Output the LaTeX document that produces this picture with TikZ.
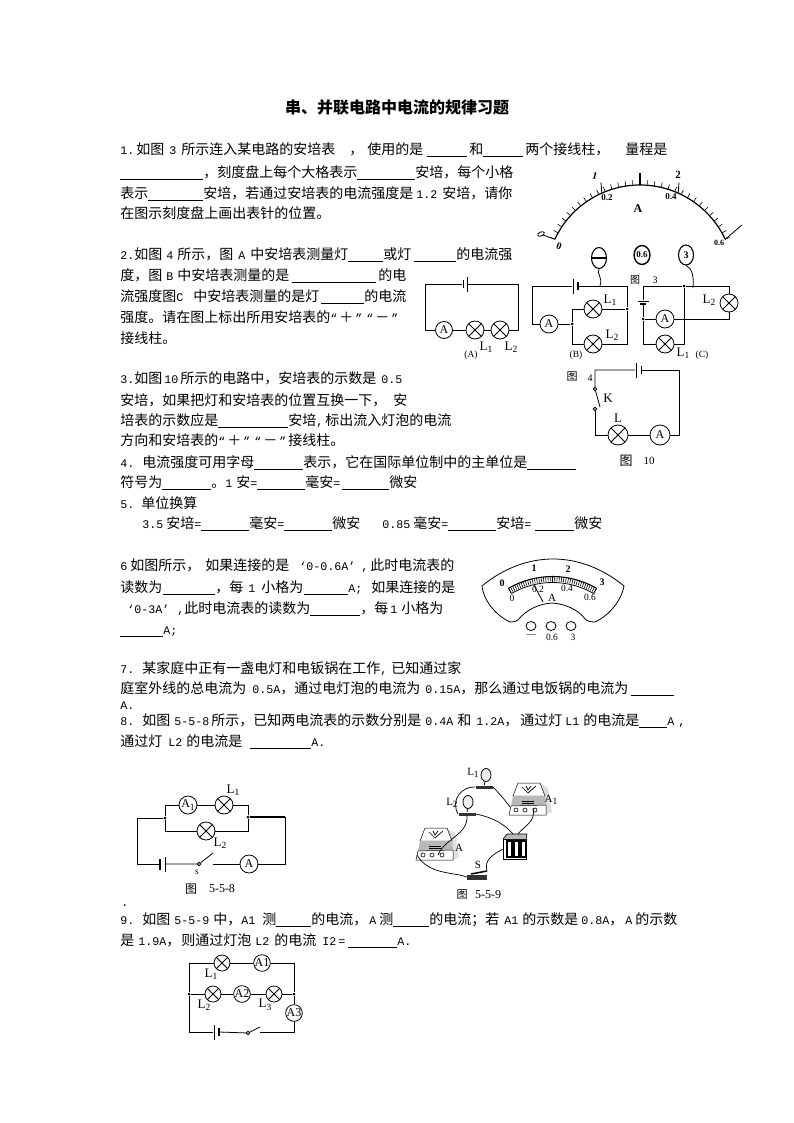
\documentclass[tikz,border=0pt]{standalone}
\usepackage{fontspec}
\setmainfont{Noto Sans CJK SC}
\newfontfamily\ltfont{Liberation Serif}
\newfontfamily\monof{Liberation Mono}
\usetikzlibrary{calc,shapes.geometric}
\definecolor{devgray}{rgb}{0.72,0.72,0.72}
\newcommand{\fillin}[1]{\rule[-2.5pt]{#1pt}{0.7pt}}
\newcommand{\gp}[1]{\hspace{#1pt}}
\newcommand{\lat}[1]{{\monof\fontsize{11.67}{14}\selectfont #1}}
\newcommand{\sublab}[2]{#1\raisebox{-2.5pt}{\fontsize{9.5}{10}\selectfont #2}}
\tikzset{
  txt/.style={anchor=base west,inner sep=0pt,yshift=-1.5pt,font=\fontsize{14}{14}\selectfont},
  cap/.style={inner sep=0pt,font=\fontsize{#1}{#1}\selectfont},
  lab/.style={inner sep=0pt,font=\ltfont\fontsize{13}{13}\selectfont},
  small/.style={inner sep=0pt,font=\ltfont\fontsize{9.5}{10}\selectfont},
  boldnum/.style={inner sep=0pt,font=\ltfont\bfseries\fontsize{#1}{#1}\selectfont},
  lamp/.style={circle,draw,fill=white,minimum size=18pt,inner sep=0pt,
    path picture={\draw (path picture bounding box.north west) -- (path picture bounding box.south east)
      (path picture bounding box.north east) -- (path picture bounding box.south west);}},
  meter/.style={circle,draw,fill=white,minimum size=18pt,inner sep=0pt,font=\ltfont\fontsize{12}{12}\selectfont},
  platelong/.style={fill=black,inner sep=0pt,minimum width=1pt,minimum height=15pt},
  plateshort/.style={fill=black,inner sep=0pt,minimum width=2pt,minimum height=8pt},
  plateh/.style={fill=black,inner sep=0pt,minimum width=#1,minimum height=1pt},
  dot/.style={circle,fill=black,inner sep=0pt,minimum size=3pt},
  contact/.style={circle,draw,fill=white,inner sep=0pt,minimum size=3.5pt},
  terminal/.style={ellipse,draw,inner sep=0pt,minimum width=10pt,minimum height=9pt},
  bulb/.style={ellipse,draw,fill=devgray!25,inner sep=0pt,minimum width=10pt,minimum height=13pt},
  bulbbase/.style={fill=black!80,inner sep=0pt,minimum width=17pt,minimum height=3pt},
  device/.pic={
    \fill[devgray!45] (12,-17) -- (20,-12) -- (24,12) -- (18,15) -- cycle;
    \draw[line width=0.5pt,fill=white] (-10,-17) -- (12,-17) -- (17,-4) -- (-15,-4) -- cycle;
    \draw[line width=0.7pt] (-6,-13) -- (0,-7) -- (8,-14) (-2,-14) -- (0,-10) -- (3,-14);
    \fill[devgray] (-15,-4) -- (17,-4) -- (18,5) -- (-17,6) -- cycle;
    \draw[line width=0.5pt] (-6,1) -- (6,1) (-6,3) -- (6,3);
    \draw[line width=0.5pt,fill=white] (-17,6) -- (18,5) -- (18,15) -- (-19,15) -- cycle;
    \foreach \k in {-12,-3,7}{\draw[line width=0.6pt] (\k,10) circle (2);}
  },
}
\begin{document}
\begin{tikzpicture}[x=1pt,y=-1pt,line width=0.8pt]
  \useasboundingbox (0,0) rectangle (794,1123);
  \fill[white] (0,0) rectangle (794,1123);
  % text
  \node[anchor=base,inner sep=0pt,font=\fontsize{16}{16}\bfseries\selectfont] (title) at (397,114) {串、并联电路中电流的规律习题};
  \node[txt] (q1a) at (120,153) {\lat{1.}\gp{2}如图\gp{5}\lat{3}\gp{5}所示连入某电路的安培表\gp{14}，\gp{4}使用的是\gp{4}\fillin{40}\gp{2}和\fillin{40}\gp{2}两个接线柱，\gp{16}量程是};
  \node[txt] (q1b) at (120,176) {\fillin{83}，刻度盘上每个大格表示\fillin{58}安培，每个小格};
  \node[txt] (q1c) at (120,197) {表示\fillin{55}安培，若通过安培表的电流强度是\gp{3}\lat{1.2}\gp{5}安培，请你};
  \node[txt] (q1d) at (120,217) {在图示刻度盘上画出表针的位置。};
  \node[txt] (q2a) at (120,258) {\lat{2.}如图\gp{4}\lat{4}\gp{4}所示，图\gp{5}\lat{A}\gp{5}中安培表测量灯\fillin{35}或灯\gp{3}\fillin{42}的电流强};
  \node[txt] (q2b) at (120,279) {度，图\gp{4}\lat{B}\gp{4}中安培表测量的是\gp{3}\fillin{84}\gp{2}的电};
  \node[txt] (q2c) at (120,300) {流强度图\lat{C}\gp{10}中安培表测量的是灯\gp{2}\fillin{43}的电流};
  \node[txt] (q2d) at (120,321) {强度。请在图上标出所用安培表的\lat{“}\gp{2}＋\gp{2}\lat{”}\gp{4}\lat{“}\gp{2}－\gp{2}\lat{”}};
  \node[txt] (q2e) at (120,342) {接线柱。};
  \node[txt] (q3a) at (120,382) {\lat{3.}如图\gp{2}\lat{10}\gp{2}所示的电路中，安培表的示数是\gp{5}\lat{0.5}};
  \node[txt] (q3b) at (120,404) {安培，如果把灯和安培表的位置互换一下，\gp{7}安};
  \node[txt] (q3c) at (120,424) {培表的示数应是\fillin{70}安培\lat{,}\gp{2}标出流入灯泡的电流};
  \node[txt] (q3d) at (120,444) {方向和安培表的\lat{“}\gp{2}＋\gp{2}\lat{”}\gp{4}\lat{“}\gp{2}－\gp{2}\lat{”}\gp{2}接线柱。};
  \node[txt] (q4a) at (120,466) {\lat{4.}\gp{8}电流强度可用字母\fillin{49}表示，它在国际单位制中的主单位是\fillin{49}};
  \node[txt] (q4b) at (120,486) {符号为\fillin{49}。\lat{1}\gp{4}安\lat{=}\fillin{48}毫安\lat{=}\gp{2}\fillin{47}微安};
  \node[txt] (q5a) at (120,507) {\lat{5.}\gp{7}单位换算};
  \node[txt] (q5b) at (142,527) {\lat{3.5}\gp{3}安培\lat{=}\fillin{48}毫安\lat{=}\fillin{48}微安\gp{22}\lat{0.85}\gp{3}毫安\lat{=}\fillin{48}安培\lat{=}\gp{4}\fillin{39}微安};
  \node[txt] (q6a) at (120,569) {\lat{6}\gp{3}如图所示，\gp{5}如果连接的是\gp{10}\lat{‘0-0.6A’}\gp{6}\lat{,}\gp{2}此时电流表的};
  \node[txt] (q6b) at (120,591) {读数为\gp{1}\fillin{52}，每\gp{5}\lat{1}\gp{6}小格为\gp{1}\fillin{44}\lat{A;}\gp{9}如果连接的是};
  \node[txt] (q6c) at (120,612) {\gp{7}\lat{‘0-3A’}\gp{8}\lat{,}此时电流表的读数为\fillin{50}，每\gp{2}\lat{1}\gp{4}小格为};
  \node[txt] (q6d) at (120,633) {\fillin{43}\lat{A;}};
  \node[txt] (q7a) at (120,672) {\lat{7.}\gp{8}某家庭中正有一盏电灯和电钣锅在工作\lat{,}\gp{4}已知通过家};
  \node[txt] (q7b) at (120,692) {庭室外线的总电流为\gp{6}\lat{0.5A}，通过电灯泡的电流为\gp{5}\lat{0.15A}，那么通过电饭锅的电流为\gp{3}\fillin{43}};
  \node[txt] (q7c) at (120,708) {\lat{A.}};
  \node[txt] (q8a) at (120,724) {\lat{8.}\gp{8}如图\gp{4}\lat{5-5-8}\gp{2}所示，已知两电流表的示数分别是\gp{4}\lat{0.4A}\gp{4}和\gp{5}\lat{1.2A}，\gp{2}通过灯\gp{3}\lat{L1}\gp{4}的电流是\fillin{28}\lat{A}\gp{4}\lat{,}};
  \node[txt] (q8b) at (120,745) {通过灯\gp{6}\lat{L2}\gp{4}的电流是\gp{8}\fillin{61}\lat{A.}};
  \node[txt] (dotline) at (121,905) {\lat{.}};
  \node[txt] (q9a) at (120,923) {\lat{9.}\gp{8}如图\gp{4}\lat{5-5-9}\gp{4}中，\lat{A1}\gp{7}测\fillin{35}的电流，\gp{2}\lat{A}\gp{3}测\fillin{36}的电流；若\gp{5}\lat{A1}\gp{4}的示数是\gp{3}\lat{0.8A}，\gp{2}\lat{A}\gp{3}的示数};
  \node[txt] (q9b) at (120,944) {是\gp{4}\lat{1.9A}，\gp{1}则通过灯泡\gp{4}\lat{L2}\gp{5}的电流\gp{6}\lat{I2}\gp{2}\lat{=}\gp{3}\fillin{49}\lat{A.}};

  % scale of fig 3
  \coordinate (dialc) at (640,279);
  \coordinate (dialend) at ($(dialc)+(-155:94)$);
  \coordinate (dialtip) at (543,235);
  \coordinate (dialendr) at ($(dialc)+(-25:94)$);
  \coordinate (dialtipr) at (742,225);
  \draw[line width=1.2pt] (dialend) arc[start angle=-155,end angle=-25,radius=94];
  \foreach \a in {0,...,30}{
    \draw[line width=0.6pt] ($(dialc)+(-155+4.333*\a:94)$) -- ($(dialc)+(-155+4.333*\a:99)$);
  }
  \draw[line width=1.1pt] ($(dialc)+(-90:94)$) -- ($(dialc)+(-90:106)$);
  \draw ($(dialc)+(-114:94)$) -- ($(dialc)+(-112:104)$);
  \draw ($(dialc)+(-66:94)$) -- ($(dialc)+(-68:104)$);
  \draw (dialend) -- (dialtip);
  \draw (dialendr) -- (dialtipr);
  \node[ellipse,draw,inner sep=0pt,minimum width=7pt,minimum height=4pt,rotate=25] (tipl) at (541,234) {};
  \node[boldnum=10,rotate=-20] (dial0) at (559,246) {0};
  \node[boldnum=10,rotate=-15] (dial1) at (595,176) {1};
  \node[boldnum=11] (dial2) at (678,175) {2};
  \node[boldnum=9] (dial02) at (607,198) {0.2};
  \node[boldnum=9] (dial04) at (671,197) {0.4};
  \node[boldnum=8] (dial06) at (719,243) {0.6};
  \node[boldnum=12] (dialA) at (638,209) {A};
  \node[ellipse,draw,line width=1.1pt,inner sep=0pt,minimum width=15pt,minimum height=21pt] (tminus) at (599,258) {};
  \draw[line width=1.1pt] (tminus.west) -- (tminus.east);
  \node[ellipse,draw,line width=1.4pt,inner sep=0pt,minimum width=15pt,minimum height=19pt,font=\ltfont\bfseries\fontsize{9}{9}\selectfont] (t06) at (642,255) {0.6};
  \node[ellipse,draw,line width=1.1pt,inner sep=0pt,minimum width=15pt,minimum height=20pt,font=\ltfont\bfseries\fontsize{10}{10}\selectfont] (t3) at (686,255) {3};
  \node[cap=10] (cap3a) at (635,280) {图};
  \node[lab,font=\ltfont\fontsize{10}{10}\selectfont] (cap3b) at (655,280) {3};

  % circuit A
  \node[platelong] (pa1) at (467,284) {};
  \node[plateshort,minimum width=1pt] (pa2) at (463,284) {};
  \node[meter,minimum size=17pt] (meta) at (444,330) {A};
  \node[lamp] (lampa1) at (475,330) {};
  \node[lamp] (lampa2) at (500,330) {};
  \coordinate (atl) at (425,284);
  \coordinate (abl) at (425,330);
  \coordinate (atr) at (518,284);
  \coordinate (abr) at (518,330);
  \draw (pa2) -- (atl) -- (abl) -- (meta) -- (lampa1) -- (lampa2) -- (abr) -- (atr) -- (pa1);
  \node[lab] (la1) at (486,347) {\sublab{L}{1}};
  \node[lab] (la2) at (511,347) {\sublab{L}{2}};
  \node[small] (capa) at (471,355) {(A)};

  % circuit B
  \node[platelong] (pb1) at (573,286) {};
  \node[plateshort] (pb2) at (578,286) {};
  \node[meter] (metb) at (549,324) {A};
  \node[dot] (jb1) at (572,324) {};
  \node[dot] (jb2) at (627,309) {};
  \node[lamp] (lampb1) at (593,309) {};
  \node[lamp] (lampb2) at (593,344) {};
  \coordinate (btl) at (532,286);
  \coordinate (bbl) at (532,324);
  \coordinate (btr) at (627,286);
  \coordinate (bbr) at (627,344);
  \draw (pb1) -- (btl) -- (bbl) -- (metb) -- (jb1);
  \draw (pb2) -- (btr) -- (jb2) -- (bbr) -- (lampb2) -| (jb1) |- (lampb1) -- (jb2);
  \draw (tminus.south) .. controls (596,274) and (603,276) .. (600,286);
  \node[lab] (lb1) at (610,300) {\sublab{L}{1}};
  \node[lab] (lb2) at (612,335) {\sublab{L}{2}};
  \node[small] (capb) at (576,355) {(B)};

  % circuit C
  \node[plateh=11pt] (pc1) at (643,301) {};
  \node[plateh=6pt,minimum height=2pt] (pc2) at (643,304) {};
  \node[dot] (jc1) at (643,319) {};
  \node[dot] (jc2) at (684,286) {};
  \node[meter] (metc) at (665,319) {A};
  \node[lamp] (lampc1) at (665,344) {};
  \node[lamp] (lampc2) at (729,303) {};
  \coordinate (ctl) at (643,286);
  \coordinate (ctr) at (729,286);
  \coordinate (cbl) at (643,344);
  \coordinate (cbr) at (729,319);
  \coordinate (cbm) at (684,344);
  \draw (pc1) -- (ctl) -- (jc2) -- (ctr) -- (lampc2) -- (cbr) -- (metc) -- (jc1);
  \draw (pc2) -- (jc1) -- (cbl) -- (lampc1) -- (cbm) -- (jc2);
  \draw (t3.south) .. controls (692,268) and (694,276) .. (693,288);
  \node[lab] (lc2) at (709,300) {\sublab{L}{2}};
  \node[lab] (lc1) at (683,353) {\sublab{L}{1}};
  \node[small] (capc) at (702,355) {(C)};
  \node[cap=11] (cap4a) at (572,377) {图};
  \node[lab,font=\ltfont\fontsize{10}{10}\selectfont] (cap4b) at (590,378) {4};

  % fig 10
  \node[platelong] (pd1) at (636,370) {};
  \node[plateshort,minimum width=1pt] (pd2) at (641,370) {};
  \node[contact] (swd1) at (595,389) {};
  \node[contact] (swd2) at (595,409) {};
  \coordinate (swdtip) at (600,407);
  \node[lamp,minimum size=20pt] (lampd) at (618,435) {};
  \node[meter,minimum size=20pt] (metd) at (660,435) {A};
  \coordinate (dtl) at (595,370);
  \coordinate (dtr) at (679,370);
  \coordinate (dbl) at (595,435);
  \coordinate (dbr) at (679,435);
  \draw (pd1) -- (dtl) -- (swd1) -- (swdtip);
  \draw (swd2) -- (dbl) -- (lampd) -- (metd) -- (dbr) -- (dtr) -- (pd2);
  \node[lab] (kd) at (608,398) {K};
  \node[lab] (ld) at (618,418) {L};
  \node[cap=13] (cap10a) at (626,461) {图};
  \node[lab,font=\ltfont\fontsize{11}{11}\selectfont] (cap10b) at (649,461) {10};

  % panel of the meter in q6
  \coordinate (pc) at (552.5,664.5);
  \draw (482,586) .. controls (505,567) and (530,559) .. (553,559) .. controls (576,559) and (601,567) .. (624,586)
    .. controls (621,602) and (608,616) .. (595,622) .. controls (590,622) and (588,621) .. (586,620)
    .. controls (578,609) and (565,604) .. (552,603) .. controls (538,604) and (526,610) .. (518,620)
    .. controls (515,622) and (512,622) .. (510,622) .. controls (497,616) and (484,602) .. (482,586) -- cycle;
  \draw[line width=1.1pt] ($(pc)+(-120:88)$) arc[start angle=-120,end angle=-60,radius=88];
  \draw ($(pc)+(-120:82)$) arc[start angle=-120,end angle=-60,radius=82];
  \draw ($(pc)+(-120:88)$) -- ($(pc)+(-120:82)$);
  \draw ($(pc)+(-60:88)$) -- ($(pc)+(-60:82)$);
  \foreach \a in {0,...,40}{
    \draw[line width=0.6pt] ($(pc)+(-120+1.5*\a:88)$) -- ($(pc)+(-120+1.5*\a:83)$);
  }
  \node[boldnum=10] (pn0) at (502,583) {0};
  \node[boldnum=10] (pn1) at (534,568) {1};
  \node[boldnum=10] (pn2) at (568,569) {2};
  \node[boldnum=10] (pn3) at (602,582) {3};
  \node[small] (pm0) at (512,598) {0};
  \node[small] (pm2) at (538,589) {0.2};
  \node[small] (pm4) at (567,588) {0.4};
  \node[small] (pm6) at (590,597) {0.6};
  \node[lab,font=\ltfont\fontsize{11}{11}\selectfont] (pA) at (552,598) {A};
  \coordinate (needle) at (543,602);
  \coordinate (needletip) at (534,585);
  \draw (needle) -- (needletip);
  \node[terminal] (pt1) at (531,626) {};
  \node[terminal] (pt2) at (551,626) {};
  \node[terminal] (pt3) at (571,626) {};
  \node[small] (ptm) at (531,636) {—};
  \node[small] (pt06) at (552,637) {0.6};
  \node[small] (pt33) at (573,637) {3};

  % fig 5-5-8
  \node[platelong] (pe1) at (165,864) {};
  \node[plateshort,minimum height=11pt] (pe2) at (160,864) {};
  \node[dot] (je1) at (165,818) {};
  \node[dot] (je2) at (248,817) {};
  \node[meter] (mete1) at (188,805) {\sublab{A}{1}};
  \node[lamp] (lampe1) at (224,805) {};
  \node[lamp] (lampe2) at (206,831) {};
  \node[meter] (mete2) at (249,864) {A};
  \node[contact] (swe) at (199,864) {};
  \coordinate (swetip) at (213,853);
  \coordinate (swefree) at (213,864);
  \coordinate (etl) at (137,818);
  \coordinate (ebl) at (137,864);
  \coordinate (etr) at (285,817);
  \coordinate (ebr) at (285,864);
  \draw (je1) |- (mete1) -- (lampe1) -| (je2);
  \draw (je1) |- (lampe2) -| (je2);
  \draw (je1) -- (etl) -- (ebl) -- (pe2);
  \draw (pe1) -- (swe) -- (swetip);
  \draw (swefree) -- (mete2) -- (ebr) -- (etr);
  \draw[line width=1.4pt] (je2) -- (etr);
  \node[lab] (le1) at (233,790) {\sublab{L}{1}};
  \node[lab] (le2) at (220,843) {\sublab{L}{2}};
  \node[small] (se) at (197,872) {s};
  \node[cap=12] (cap8a) at (191,889) {图};
  \node[lab,font=\ltfont\fontsize{12}{12}\selectfont] (cap8b) at (222,889) {5-5-8};

  % fig 5-5-9, parts
  \pic at (435,845) {device};
  \pic at (528,800) {device};
  \node[bulb] (bulba) at (486,775) {};
  \node[bulbbase] (basea) at (484,787) {};
  \draw (bulba) -- (basea);
  \node[bulb] (bulbb) at (468,802) {};
  \node[bulbbase] (baseb) at (467,814) {};
  \draw (bulbb) -- (baseb);
  \node[draw,fill=white,inner sep=0pt,minimum width=23pt,minimum height=20pt] (batbox) at (515,849) {};
  \fill[devgray] (503,839) -- (507,834) -- (527,834) -- (526,839) -- cycle;
  \draw[line width=0.6pt] (503,839) -- (507,834) -- (527,834) -- (526,839);
  \foreach \k in {507,514,521}{\draw[line width=1.1pt,fill=white] (\k,841) rectangle ++(5,16);}
  \node[fill=black!80,inner sep=0pt,minimum width=20pt,minimum height=5pt] (swbase) at (477,877) {};
  \coordinate (swarm) at (487,871);
  \draw[line width=1.5pt] (471,874) -- (swarm);
  \coordinate (deva) at (417,855);
  \coordinate (devat) at (438,855);
  \coordinate (devb) at (510,807);
  \coordinate (devbr) at (533,808);
  \coordinate (battop) at (513,834);
  \coordinate (battopr) at (518,834);
  \draw[line width=0.7pt] (basea.west) .. controls (462,786) and (450,800) .. (baseb.west);
  \draw[line width=0.7pt] (basea.east) .. controls (498,792) and (505,800) .. (devb);
  \draw[line width=0.7pt] (baseb.south) .. controls (468,835) and (445,838) .. (devat);
  \draw[line width=0.7pt] (baseb.east) .. controls (495,818) and (505,825) .. (battop);
  \draw[line width=0.7pt] (devbr) .. controls (536,822) and (525,825) .. (battopr);
  \draw[line width=0.7pt] (deva) .. controls (428,875) and (455,872) .. (swbase.west);
  \draw[line width=0.7pt] (swarm) .. controls (484,860) and (492,855) .. (batbox.west);
  \node[lab,font=\ltfont\fontsize{11}{11}\selectfont] (lf1) at (473,773) {\sublab{L}{1}};
  \node[lab,font=\ltfont\fontsize{11}{11}\selectfont] (lf2) at (452,803) {\sublab{L}{2}};
  \node[lab,font=\ltfont\fontsize{11}{11}\selectfont] (af) at (459,848) {A};
  \node[lab,font=\ltfont\fontsize{11}{11}\selectfont] (af1) at (551,800) {\sublab{A}{1}};
  \node[lab,font=\ltfont\fontsize{11}{11}\selectfont] (sf) at (478,865) {S};
  \node[cap=11] (cap9a) at (462,895) {图};
  \node[lab,font=\ltfont\fontsize{12}{12}\selectfont] (cap9b) at (488,895) {5-5-9};

  % last circuit
  \node[lamp,minimum size=16pt] (lampg1) at (222,963) {};
  \node[meter,minimum size=16pt] (metg1) at (262,963) {A1};
  \node[lamp,minimum size=16pt] (lampg2) at (213,994) {};
  \node[meter,minimum size=16pt] (metg2) at (242,994) {A2};
  \node[lamp,minimum size=16pt] (lampg3) at (274,994) {};
  \node[meter,minimum size=16pt] (metg3) at (294,1013) {A3};
  \node[dot] (jg1) at (189,994) {};
  \node[dot] (jg2) at (294,994) {};
  \node[platelong] (pg1) at (214,1032) {};
  \node[plateshort] (pg2) at (219,1032) {};
  \node[contact] (swg) at (248,1033) {};
  \coordinate (swgtip) at (260,1027);
  \coordinate (swgfree) at (260,1032);
  \coordinate (gtl) at (189,963);
  \coordinate (gtr) at (294,963);
  \coordinate (gbl) at (189,1032);
  \coordinate (gbr) at (294,1032);
  \draw (jg1) -- (gtl) -- (lampg1) -- (metg1) -- (gtr) -- (jg2);
  \draw (jg1) -- (lampg2) -- (metg2) -- (lampg3) -- (jg2) -- (metg3) -- (gbr) -- (swgfree);
  \draw (jg1) -- (gbl) -- (pg1);
  \draw (pg2) -- (swg) -- (swgtip);
  \node[lab] (lg1) at (211,974) {\sublab{L}{1}};
  \node[lab] (lg2) at (204,1005) {\sublab{L}{2}};
  \node[lab] (lg3) at (265,1005) {\sublab{L}{3}};
\end{tikzpicture}
\end{document}
